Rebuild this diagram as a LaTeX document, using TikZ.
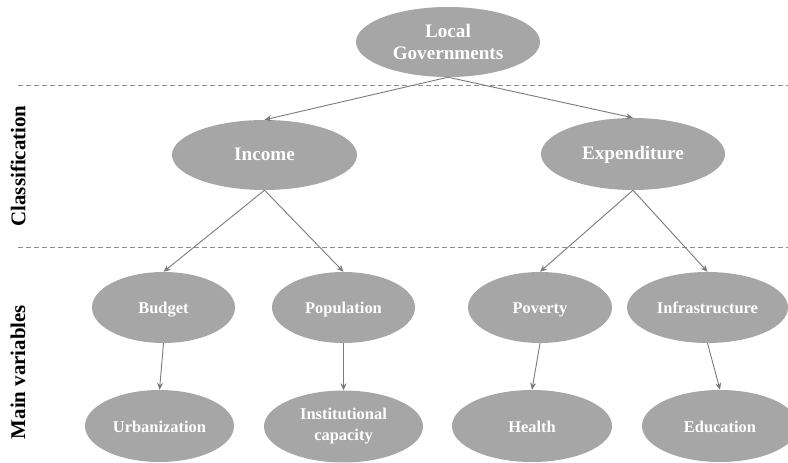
\documentclass[tikz,border=0pt]{standalone}
\usepackage{fontspec}
\setmainfont{Liberation Serif}
\usetikzlibrary{shapes.geometric,arrows.meta}
\definecolor{nodegray}{HTML}{A6A6A6}
\definecolor{arrowgray}{HTML}{7A7A7A}
\definecolor{dashgray}{HTML}{8C8C8C}
\tikzset{
  ellnode/.style={ellipse, fill=nodegray, draw=none, text=white, inner sep=0pt, align=center},
  bigtext/.style={font=\bfseries\fontsize{19.2}{22}\selectfont},
  smalltext/.style={font=\bfseries\fontsize{16.5}{21}\selectfont},
  oneline/.style={text height=16bp, text depth=4bp},
  conn/.style={draw=arrowgray, line width=0.9bp, -{Stealth[length=7bp,width=6bp]}},
  sepline/.style={draw=dashgray, line width=0.9bp, dash pattern=on 5bp off 3bp},
  sidelabel/.style={rotate=90, font=\bfseries\fontsize{21}{24}\selectfont, text=black, inner sep=0pt}
}
\begin{document}
\begin{tikzpicture}[x=1bp,y=-1bp]
\useasboundingbox (0,0) rectangle (788,463);
% separators
\coordinate (s1a) at (18,85);
\coordinate (s1b) at (788,85);
\coordinate (s2a) at (18,247);
\coordinate (s2b) at (788,247);
\draw[sepline] (s1a) -- (s1b);
\draw[sepline] (s2a) -- (s2b);
% side labels
\node[sidelabel] (cls) at (18,166) {Classification};
\node[sidelabel] (mv) at (18,372) {Main variables};
% nodes
\node[ellnode, bigtext, minimum width=184bp, minimum height=70bp] (lg) at (448,42) {Local\\Governments};
\node[ellnode, bigtext, oneline, minimum width=185bp, minimum height=70bp] (inc) at (264.5,155) {Income};
\node[ellnode, bigtext, oneline, minimum width=184bp, minimum height=72bp] (exp) at (633,154) {Expenditure};
\node[ellnode, smalltext, oneline, minimum width=143bp, minimum height=71bp] (bud) at (163.5,307.5) {Budget};
\node[ellnode, smalltext, oneline, minimum width=143bp, minimum height=71bp] (pop) at (343.5,307.5) {Population};
\node[ellnode, smalltext, oneline, minimum width=144bp, minimum height=71bp] (pov) at (540,307.5) {Poverty};
\node[ellnode, smalltext, oneline, minimum width=161bp, minimum height=71bp] (inf) at (707.5,307.5) {Infrastructure};
\node[ellnode, smalltext, oneline, minimum width=149bp, minimum height=72bp] (urb) at (159.5,426) {Urbanization};
\node[ellnode, smalltext, minimum width=159bp, minimum height=72bp] (ins) at (343.5,426.5) {Institutional\\capacity};
\node[ellnode, smalltext, oneline, minimum width=160bp, minimum height=72bp] (hea) at (532,426) {Health};
\node[ellnode, smalltext, oneline, minimum width=156bp, minimum height=72bp] (edu) at (720,426) {Education};
% connectors
\draw[conn] (lg.south) -- (inc.north);
\draw[conn] (lg.south) -- (exp.north);
\draw[conn] (inc.south) -- (bud.north);
\draw[conn] (inc.south) -- (pop.north);
\draw[conn] (exp.south) -- (pov.north);
\draw[conn] (exp.south) -- (inf.north);
\draw[conn] (bud.south) -- (urb.north);
\draw[conn] (pop.south) -- (ins.north);
\draw[conn] (pov.south) -- (hea.north);
\draw[conn] (inf.south) -- (edu.north);
\end{tikzpicture}
\end{document}
